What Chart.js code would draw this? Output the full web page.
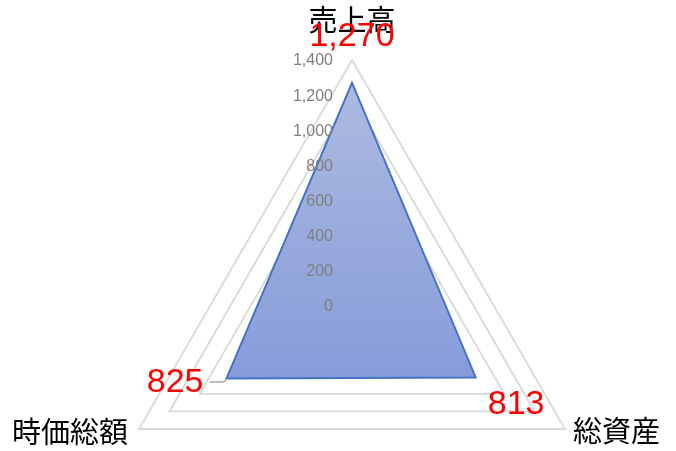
<!DOCTYPE html>
<html>
<head>
<meta charset="utf-8">
<script src="https://cdn.jsdelivr.net/npm/chart.js@4/dist/chart.umd.min.js"></script>
<style>
  html, body { margin: 0; padding: 0; background: #ffffff; }
  #wrap { width: 676px; height: 451px; }
</style>
</head>
<body>
<div id="wrap"><canvas id="c" width="676" height="451"></canvas></div>
<script>
const categories = ['売上高', '総資産', '時価総額'];
const seriesValues = [1270, 813, 825];
const tickMin = 0;
const tickMax = 1400;
const tickStep = 200;

const labelPlugin = {
  id: 'excelLabels',
  afterDatasetsDraw(chart) {
    const ctx = chart.ctx;
    const r = chart.scales.r;
    ctx.save();
    // tick labels (right aligned, left of centre)
    ctx.font = '16px "Liberation Sans", Arial, sans-serif';
    ctx.fillStyle = '#7f7f7f';
    ctx.textAlign = 'right';
    ctx.textBaseline = 'middle';
    r.ticks.forEach(t => {
      const y = r.yCenter - r.getDistanceFromCenterForValue(t.value);
      ctx.fillText(t.value.toLocaleString('en-US'), r.xCenter - 19, y + 1);
    });

    // category labels
    ctx.font = '29px "Noto Sans CJK JP", sans-serif';
    ctx.fillStyle = '#000000';
    const p0 = r.getPointPositionForValue(0, tickMax);
    const p1 = r.getPointPositionForValue(1, tickMax);
    const p2 = r.getPointPositionForValue(2, tickMax);
    ctx.textBaseline = 'middle';
    ctx.textAlign = 'center';
    ctx.fillText(categories[0], p0.x, p0.y - 40);
    ctx.textAlign = 'left';
    ctx.fillText(categories[1], p1.x + 8, p1.y + 2);
    ctx.textAlign = 'right';
    ctx.fillText(categories[2], p2.x - 11, p2.y + 3);

    // data labels
    const d0 = r.getPointPositionForValue(0, seriesValues[0]);
    const d1 = r.getPointPositionForValue(1, seriesValues[1]);
    const d2 = r.getPointPositionForValue(2, seriesValues[2]);
    // leader line for left label
    ctx.strokeStyle = '#a6a6a6';
    ctx.lineWidth = 1.5;
    ctx.beginPath();
    ctx.moveTo(d2.x - 17, d2.y + 3.5);
    ctx.lineTo(d2.x - 5, d2.y + 3.5);
    ctx.quadraticCurveTo(d2.x - 1, d2.y + 3.5, d2.x, d2.y);
    ctx.stroke();

    ctx.font = '34px "Liberation Sans", Arial, sans-serif';
    ctx.fillStyle = '#ff0000';
    ctx.textBaseline = 'middle';
    ctx.textAlign = 'center';
    ctx.fillText(seriesValues[0].toLocaleString('en-US'), d0.x, d0.y - 46);
    ctx.textAlign = 'left';
    ctx.fillText(seriesValues[1].toLocaleString('en-US'), d1.x + 12, d1.y + 27);
    ctx.textAlign = 'right';
    ctx.fillText(seriesValues[2].toLocaleString('en-US'), d2.x - 23, d2.y + 4);
    ctx.restore();
  }
};

new Chart(document.getElementById('c'), {
  type: 'radar',
  data: {
    labels: categories,
    datasets: [{
      data: seriesValues,
      borderColor: '#4472c4',
      borderWidth: 2,
      pointRadius: 0,
      pointHoverRadius: 0,
      fill: true,
      backgroundColor(context) {
        const chart = context.chart;
        const r = chart.scales.r;
        if (!r || !chart.chartArea) return '#98aadc';
        const top = r.getPointPositionForValue(0, seriesValues[0]).y;
        const bot = r.getPointPositionForValue(1, seriesValues[1]).y;
        const g = chart.ctx.createLinearGradient(0, top, 0, bot);
        g.addColorStop(0, '#adbae0');
        g.addColorStop(1, '#869cda');
        return g;
      }
    }]
  },
  options: {
    responsive: false,
    animation: false,
    events: [],
    layout: { padding: { left: 106, right: 78, top: 60, bottom: 0 } },
    plugins: {
      legend: { display: false },
      tooltip: { enabled: false },
      title: { display: false }
    },
    elements: { line: { tension: 0 } },
    scales: {
      r: {
        min: tickMin,
        max: tickMax,
        beginAtZero: true,
        ticks: { stepSize: tickStep, display: false },
        pointLabels: { display: false },
        angleLines: { display: false },
        grid: { color: '#d9d9d9', lineWidth: 1.8, circular: false },
        afterFit(scale) {
          // Excel-style radar: radius set by the plot width, triangle apex at the top of the area
          const half = Math.floor(scale.width / 2);
          scale.drawingArea = half;
          scale.xCenter = Math.floor(scale.left + half);
          scale.yCenter = Math.floor(scale.top + half);
        }
      }
    }
  },
  plugins: [labelPlugin]
});
</script>
</body>
</html>
